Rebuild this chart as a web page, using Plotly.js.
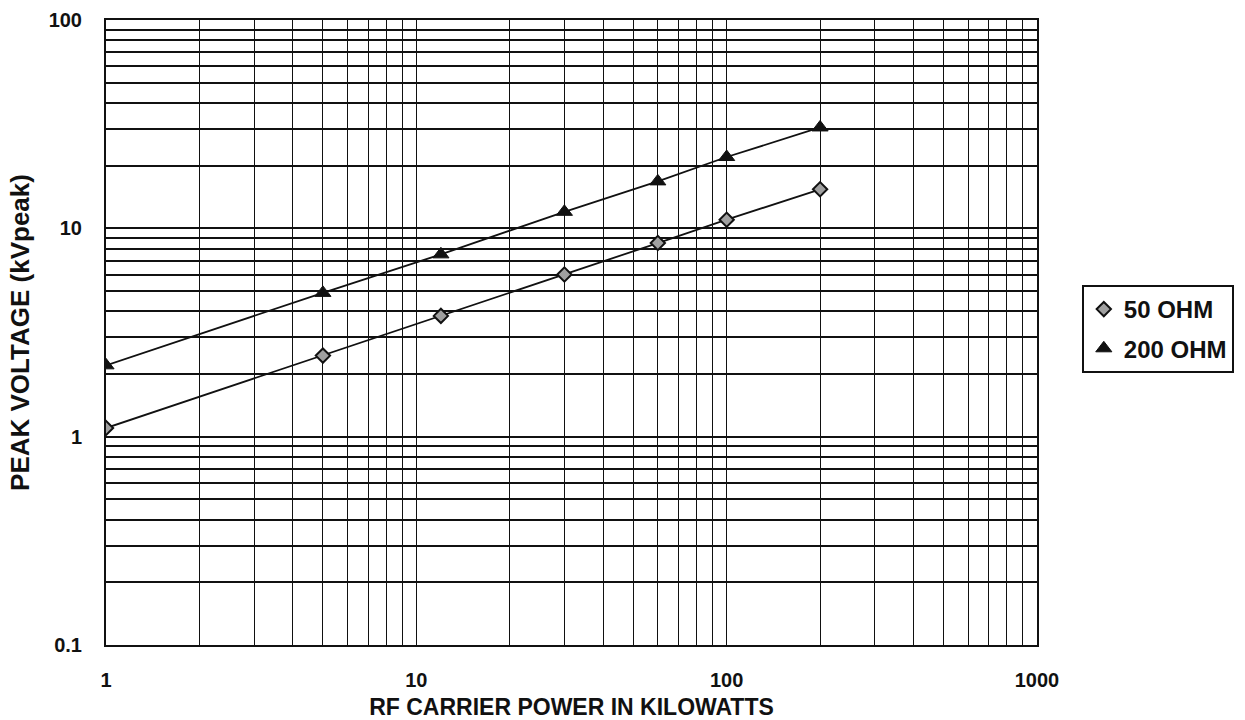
<!DOCTYPE html>
<html>
<head>
<meta charset="utf-8">
<script src="https://cdn.plot.ly/plotly-3.0.1.min.js"></script>
<style>html,body{margin:0;padding:0;background:#fff;}#chart{width:1245px;height:720px;}</style>
</head>
<body>
<div id="chart"></div>
<script>
// Data
const powerKW = [1, 5, 12, 30, 60, 100, 200];
const volts50 = [1.1, 2.45, 3.8, 6.0, 8.5, 11, 15.4];
const volts200 = [2.2, 4.9, 7.5, 12, 16.8, 22, 30.5];
const seriesNames = ['50 OHM', '200 OHM'];
const xTickVals = [1, 10, 100, 1000];
const xTickText = ['1', '10', '100', '1000'];
const yTickVals = [0.1, 1, 10, 100];
const yTickText = ['0.1', '1', '10', '100'];
const minorDigits = [2, 3, 4, 5, 6, 7, 8, 9];

function minorVals(decades) {
  const out = [];
  decades.forEach(d => minorDigits.forEach(m => out.push(m * d)));
  return out;
}

const FONT = '"Liberation Sans", Arial, sans-serif';

const traces = [
  {x: powerKW, y: volts50, mode: 'lines', line: {color: '#111', width: 1.8}, showlegend: false, hoverinfo: 'skip'},
  {x: powerKW, y: volts200, mode: 'lines', line: {color: '#111', width: 1.8}, showlegend: false, hoverinfo: 'skip'},
  {x: powerKW, y: volts50, mode: 'markers', name: seriesNames[0], legendgroup: 'a',
   marker: {symbol: 'diamond', size: 11, color: '#a0a0a0', line: {color: '#111', width: 2}}},
  {x: powerKW, y: volts200, mode: 'markers', name: seriesNames[1], legendgroup: 'b',
   marker: {symbol: 'triangle-up', size: 14, color: '#111', line: {color: '#111', width: 1}}}
];

const layout = {
  width: 1245, height: 720,
  margin: {l: 106, r: 207, t: 20, b: 75},
  paper_bgcolor: '#fff', plot_bgcolor: '#fff',
  font: {family: FONT, color: '#111'},
  showlegend: true,
  legend: {
    x: 1.047, y: 0.576, xanchor: 'left', yanchor: 'top',
    bgcolor: '#fff', bordercolor: '#111', borderwidth: 2,
    font: {family: FONT, size: 24, color: '#111', weight: 'bold'},
    traceorder: 'grouped', tracegroupgap: 5
  },
  xaxis: {
    type: 'log', range: [0, 3],
    tickmode: 'array', tickvals: xTickVals, ticktext: xTickText,
    tickfont: {family: FONT, size: 20, color: '#111', weight: 'bold'},
    ticks: '', ticklabelstandoff: 16,
    showgrid: true, gridcolor: '#111', gridwidth: 1,
    minor: {tickmode: 'array', tickvals: minorVals([1, 10, 100]), showgrid: true, gridcolor: '#111', gridwidth: 1, ticks: ''},
    showline: true, linecolor: '#111', linewidth: 2, mirror: true, zeroline: false,
    title: {text: 'RF CARRIER POWER IN KILOWATTS', font: {family: FONT, size: 23, color: '#111', weight: 'bold'}, standoff: 10}
  },
  yaxis: {
    type: 'log', range: [-1, 2],
    tickmode: 'array', tickvals: yTickVals, ticktext: yTickText,
    tickfont: {family: FONT, size: 20, color: '#111', weight: 'bold'},
    ticks: '', ticklabelstandoff: 18,
    showgrid: true, gridcolor: '#111', gridwidth: 2,
    minor: {tickmode: 'array', tickvals: minorVals([0.1, 1, 10]), showgrid: true, gridcolor: '#111', gridwidth: 2, ticks: ''},
    showline: true, linecolor: '#111', linewidth: 2, mirror: true, zeroline: false,
    title: {text: 'PEAK VOLTAGE (kVpeak)', font: {family: FONT, size: 26, color: '#111', weight: 'bold'}, standoff: 12}
  }
};

Plotly.newPlot('chart', traces, layout, {displayModeBar: false, staticPlot: true});
</script>
</body>
</html>
